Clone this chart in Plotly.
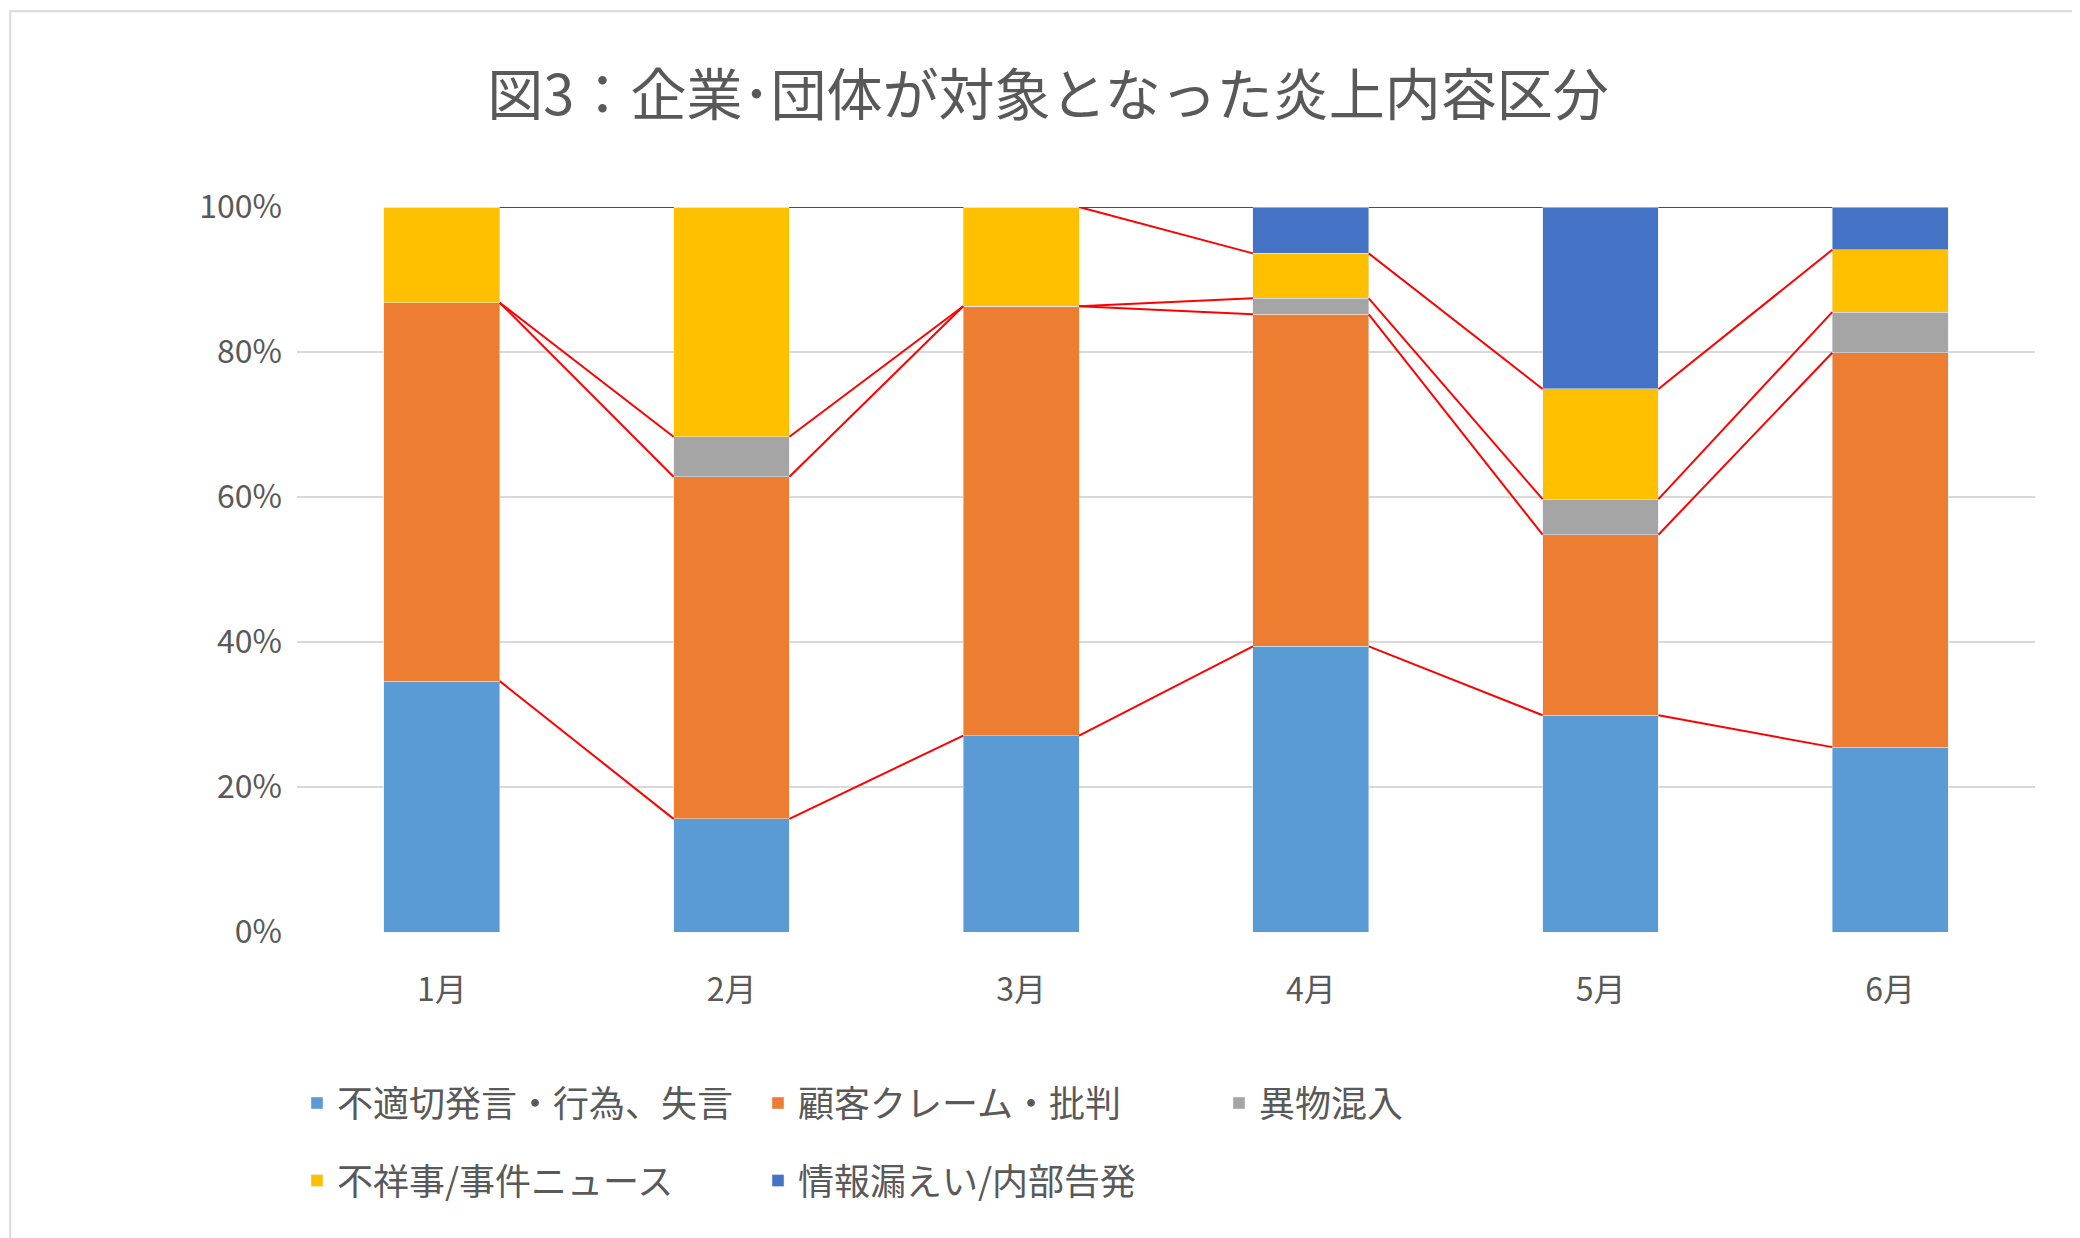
import plotly.graph_objects as go
import numpy as np

months = ["1月", "2月", "3月", "4月", "5月", "6月"]
names = ["不適切発言・行為、失言", "顧客クレーム・批判", "異物混入", "不祥事/事件ニュース", "情報漏えい/内部告発"]
colors = ["#5B9BD5", "#ED7D31", "#A5A5A5", "#FFC000", "#4472C4"]
legend_rows = ["legend", "legend", "legend", "legend2", "legend2"]
inappropriate = [34.6, 15.6, 27.1, 39.4, 29.9, 25.5]
complaints = [52.2, 47.2, 59.2, 45.8, 24.9, 54.4]
foreign = [0.0, 5.5, 0.0, 2.2, 4.9, 5.6]
scandal = [13.2, 31.7, 13.7, 6.2, 15.2, 8.6]
leaks = [0.0, 0.0, 0.0, 6.4, 25.1, 5.9]
series = [inappropriate, complaints, foreign, scandal, leaks]

x = np.arange(len(months))
bw = 0.4
fig = go.Figure()
for name, vals, c, lg in zip(names, series, colors, legend_rows):
    fig.add_trace(go.Bar(x=x, y=vals, name=name, marker_color=c, width=bw, legend=lg))

# series lines between stacked bars
cum = np.cumsum(np.array(series), axis=0)
for level in cum:
    xs, ys = [], []
    for i in range(len(months) - 1):
        xs += [x[i] + bw / 2, x[i + 1] - bw / 2, None]
        ys += [level[i], level[i + 1], None]
    fig.add_trace(go.Scatter(x=xs, y=ys, mode="lines", line=dict(color="#FF0000", width=2),
                             showlegend=False, hoverinfo="skip"))

font = "Noto Sans CJK JP"
leg = dict(orientation="h", x=0.0, xanchor="left", yanchor="middle",
           entrywidthmode="pixels", entrywidth=416, font=dict(size=36), traceorder="normal")
fig.update_layout(
    barmode="stack", width=2080, height=1238,
    paper_bgcolor="white", plot_bgcolor="white",
    font=dict(family=font, color="#595959", size=32),
    title=dict(text="図3：企業･団体が対象となった炎上内容区分", x=0.5, y=0.945, xanchor="center",
               font=dict(size=56, color="#595959")),
    margin=dict(l=289, r=53, t=199, b=314),
    xaxis=dict(tickmode="array", tickvals=x, ticktext=months, range=[-0.5, 5.5],
               showgrid=False, zeroline=False, ticks="", ticklabelstandoff=36),
    yaxis=dict(range=[0, 100], dtick=20, ticksuffix="%", gridcolor="#D9D9D9", gridwidth=2,
               zeroline=False, ticklabelstandoff=14),
    legend=dict(leg, y=-0.236),
    legend2=dict(leg, y=-0.343),
    shapes=[dict(type="rect", xref="paper", yref="paper", x0=-0.165, x1=1.029, y0=-0.428, y1=1.27,
                 line=dict(color="#D9D9D9", width=2))],
)
fig.write_html("out.html")
